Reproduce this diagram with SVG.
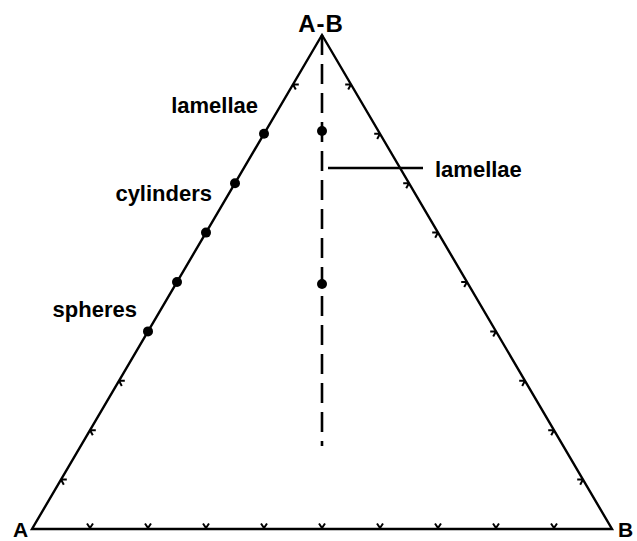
<svg xmlns="http://www.w3.org/2000/svg" width="637" height="541" viewBox="0 0 637 541">
<style>
.edge{fill:none;stroke:#000;stroke-width:2.4;stroke-linejoin:miter}
.dash{fill:none;stroke:#000;stroke-width:2.6;stroke-dasharray:20 9}
.tick{fill:none;stroke:#000;stroke-width:2}
.dot{fill:#000}
.lbl{font-family:"Liberation Sans",Arial,sans-serif;font-weight:bold;font-size:22px;fill:#000}
.big{font-size:24px}
.corner{font-size:21px}
</style>
<rect width="637" height="541" fill="#fff"/>
<g id="connectors">
<path class="edge" d="M322 35 L32 529 L612 529 Z"/>
<line class="dash" x1="322" y1="35" x2="322" y2="446"/>
<line class="edge" x1="328" y1="168" x2="423" y2="168"/>
<path class="tick" d="M293 84.4 l5.8 0 M293 84.4 l2.8 5.1 M119 380.8 l5.8 0 M119 380.8 l2.8 5.1 M90 430.2 l5.8 0 M90 430.2 l2.8 5.1 M61 479.6 l5.8 0 M61 479.6 l2.8 5.1"/>
<path class="tick" d="M351 84.4 l-5.8 0 M351 84.4 l-2.8 5.1 M380 133.8 l-5.8 0 M380 133.8 l-2.8 5.1 M409 183.2 l-5.8 0 M409 183.2 l-2.8 5.1 M438 232.6 l-5.8 0 M438 232.6 l-2.8 5.1 M467 282 l-5.8 0 M467 282 l-2.8 5.1 M496 331.4 l-5.8 0 M496 331.4 l-2.8 5.1 M525 380.8 l-5.8 0 M525 380.8 l-2.8 5.1 M554 430.2 l-5.8 0 M554 430.2 l-2.8 5.1 M583 479.6 l-5.8 0 M583 479.6 l-2.8 5.1"/>
<path class="tick" d="M87 523.5 L90 528 L93 523.5 M145 523.5 L148 528 L151 523.5 M203 523.5 L206 528 L209 523.5 M261 523.5 L264 528 L267 523.5 M319 523.5 L322 528 L325 523.5 M377 523.5 L380 528 L383 523.5 M435 523.5 L438 528 L441 523.5 M493 523.5 L496 528 L499 523.5 M551 523.5 L554 528 L557 523.5"/>
</g>
<g id="vertex-AB"><text class="lbl big" x="321" y="32" text-anchor="middle" letter-spacing="1">A-B</text></g>
<g id="vertex-A"><text class="lbl corner" x="13" y="537">A</text></g>
<g id="vertex-B"><text class="lbl corner" x="618" y="537">B</text></g>
<g id="dot-lamellae"><circle class="dot" cx="264" cy="133.8" r="5"/><text class="lbl" x="258" y="113" text-anchor="end">lamellae</text></g>
<g id="dot-cylinders-1"><circle class="dot" cx="235" cy="183.2" r="5"/></g>
<g id="dot-cylinders-2"><circle class="dot" cx="206" cy="232.6" r="5"/><text class="lbl" x="212" y="201" text-anchor="end">cylinders</text></g>
<g id="dot-spheres-1"><circle class="dot" cx="177" cy="282" r="5"/></g>
<g id="dot-spheres-2"><circle class="dot" cx="148" cy="331.4" r="5"/><text class="lbl" x="137" y="317" text-anchor="end">spheres</text></g>
<g id="dash-dot-1"><circle class="dot" cx="322" cy="131" r="5"/></g>
<g id="dash-dot-2"><circle class="dot" cx="322" cy="284" r="5"/></g>
<g id="label-lamellae-right"><text class="lbl" x="435" y="177">lamellae</text></g>
</svg>
